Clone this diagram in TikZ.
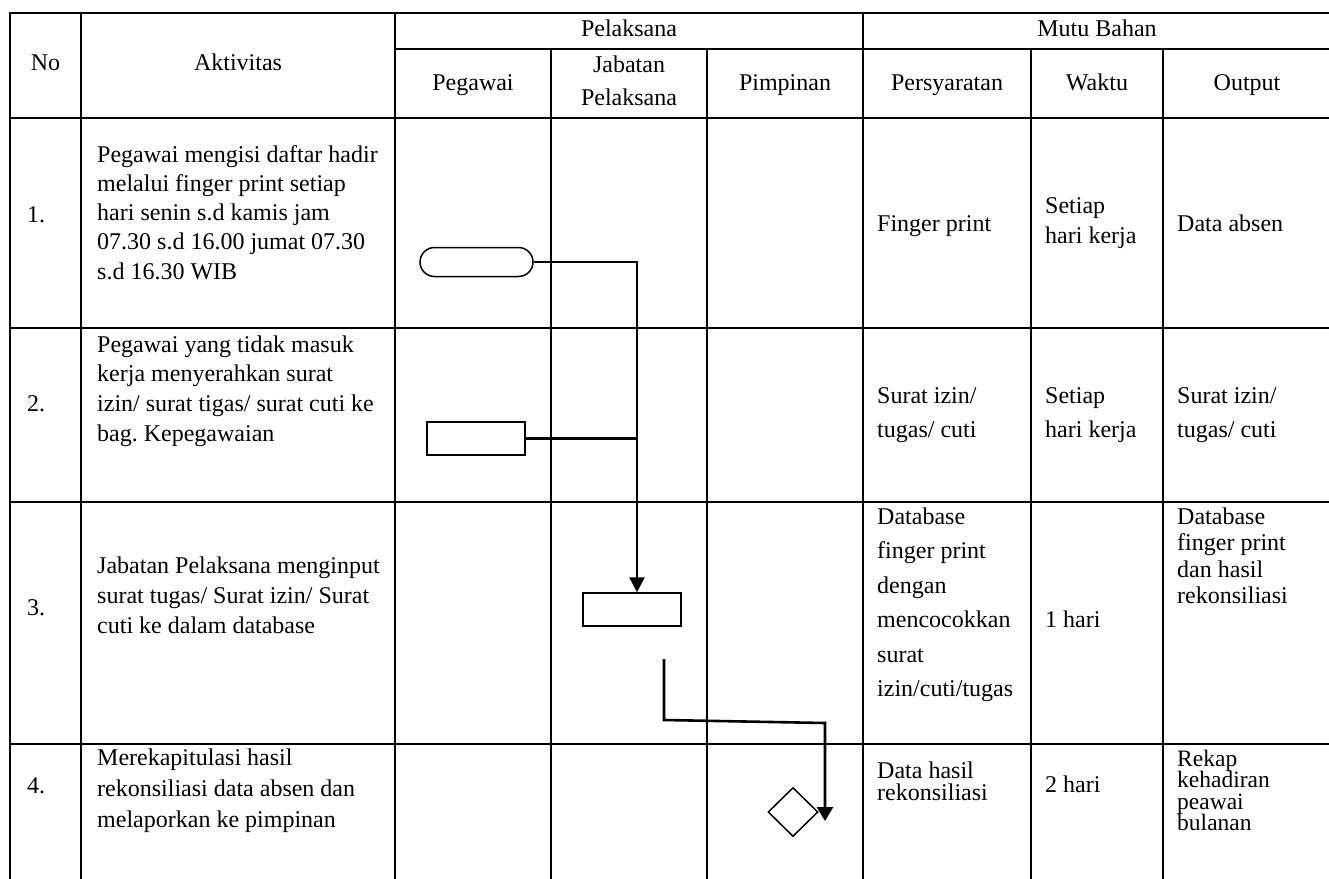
\documentclass[tikz,border=0pt]{standalone}
\usepackage{fontspec}
\setmainfont{Liberation Serif}
\usetikzlibrary{arrows.meta,shapes.geometric}
\frenchspacing

% multi-line cell text: first-line baseline is the box baseline
\newcommand\cellL[2]{\vtop{\baselineskip=#1pt\lineskiplimit=-100pt\relax\halign{##\hfil\cr#2\crcr}}}
\newcommand\cellC[2]{\vtop{\baselineskip=#1pt\lineskiplimit=-100pt\relax\halign{\hfil##\hfil\cr#2\crcr}}}

\tikzset{
  txt/.style={inner sep=0pt, font=\fontsize{24}{29}\selectfont, anchor=base west},
  small/.style={font=\fontsize{23.5}{26}\selectfont},
  hdr/.style={inner sep=0pt, font=\fontsize{24}{29}\selectfont, anchor=base},
  vrule/.style={line width=2.2pt},
  hrule/.style={line width=1.8pt},
  shapebox/.style={draw, line width=1.5pt, inner sep=0pt},
  conn/.style={line width=2.6pt},
}

\begin{document}
\begin{tikzpicture}[x=1pt, y=-1pt]
\useasboundingbox (0,0) rectangle (1329,878);

% ---- table grid ----
\draw[hrule] (10,13) -- (1340,13);
\draw[hrule] (395,49) -- (1340,49);
\foreach \yy in {118,328,502,744}
  \draw[hrule] (10,\yy) -- (1340,\yy);
\foreach \xx in {10,81,395,863}
  \draw[vrule] (\xx,12) -- (\xx,890);
\foreach \xx in {551,707,1031,1163}
  \draw[vrule] (\xx,49) -- (\xx,890);
\draw[vrule] (1331,12) -- (1331,890);

% ---- header ----
\node[hdr] (hNo) at (45.5,70) {No};
\node[hdr] (hAkt) at (238,70) {Aktivitas};
\node[hdr] (hPel) at (629,36) {Pelaksana};
\node[hdr] (hMutu) at (1097,36) {Mutu Bahan};
\node[hdr] (hPeg) at (473,90) {Pegawai};
\node[hdr] (hJab) at (629,72) {\cellC{33}{Jabatan\cr Pelaksana}};
\node[hdr] (hPim) at (785,90) {Pimpinan};
\node[hdr] (hPer) at (947,90) {Persyaratan};
\node[hdr] (hWak) at (1097,90) {Waktu};
\node[hdr] (hOut) at (1247,90) {Output};

% ---- row 1 ----
\node[txt] (no1) at (27,222) {1.};
\node[txt] (akt1) at (97,162) {\cellL{29.3}{Pegawai mengisi daftar hadir\cr melalui finger print setiap\cr hari senin s.d kamis jam\cr 07.30 s.d 16.00 jumat 07.30\cr s.d 16.30 WIB}};
\node[txt] (per1) at (877,231) {Finger print};
\node[txt] (wak1) at (1045,213) {\cellL{30}{Setiap\cr hari kerja}};
\node[txt] (out1) at (1177,231) {Data absen};

% ---- row 2 ----
\node[txt] (no2) at (27,411) {2.};
\node[txt] (akt2) at (97,352) {\cellL{29.7}{Pegawai yang tidak masuk\cr kerja menyerahkan surat\cr izin/ surat tigas/ surat cuti ke\cr bag. Kepegawaian}};
\node[txt] (per2) at (877,403) {\cellL{34}{Surat izin/\cr tugas/ cuti}};
\node[txt] (wak2) at (1045,403) {\cellL{34}{Setiap\cr hari kerja}};
\node[txt] (out2) at (1177,403) {\cellL{34}{Surat izin/\cr tugas/ cuti}};

% ---- row 3 ----
\node[txt] (no3) at (27,615) {3.};
\node[txt] (akt3) at (97,573) {\cellL{30}{Jabatan Pelaksana menginput\cr surat tugas/ Surat izin/ Surat\cr cuti ke dalam database}};
\node[txt] (per3) at (877,524) {\cellL{34.5}{Database\cr finger print\cr dengan\cr mencocokkan\cr surat\cr izin/cuti/tugas}};
\node[txt] (wak3) at (1045,627) {1 hari};
\node[txt] (out3) at (1177,524) {\cellL{26.5}{Database\cr finger print\cr dan hasil\cr rekonsiliasi}};

% ---- row 4 ----
\node[txt] (no4) at (27,793) {4.};
\node[txt] (akt4) at (97,765) {\cellL{31}{Merekapitulasi hasil\cr rekonsiliasi data absen dan\cr melaporkan ke pimpinan}};
\node[txt] (per4) at (877,778) {\cellL{22.5}{Data hasil\cr rekonsiliasi}};
\node[txt] (wak4) at (1045,792) {2 hari};
\node[txt, small] (out4) at (1177,766) {\cellL{21.5}{Rekap\cr kehadiran\cr peawai\cr bulanan}};

% ---- flow symbols ----
\node[shapebox, rectangle, rounded corners=14.5pt, minimum width=113pt, minimum height=29pt] (start) at (476.5,262) {};
\node[shapebox, rectangle, minimum width=98pt, minimum height=33pt] (submit) at (476,438.5) {};
\node[shapebox, rectangle, minimum width=98pt, minimum height=33pt] (input) at (632,609.5) {};
\node[shapebox, diamond, minimum width=50pt, minimum height=49pt] (report) at (793,812) {};

% ---- connectors ----
\coordinate (join) at (637,262);
\draw[conn, -{Triangle[length=15pt,width=15pt]}] (start.east) -- (join) -- (join |- input.north);
\draw[conn] (submit.east) -- (submit.east -| join);

\coordinate (k0) at (664,659);
\coordinate (k1) at (664,720);
\coordinate (k2) at (825,723);
\coordinate (k3) at (825,821);
\draw[conn, -{Triangle[length=14pt,width=16pt]}] (k0) -- (k1) -- (k2) -- (k3);
\end{tikzpicture}
\end{document}
